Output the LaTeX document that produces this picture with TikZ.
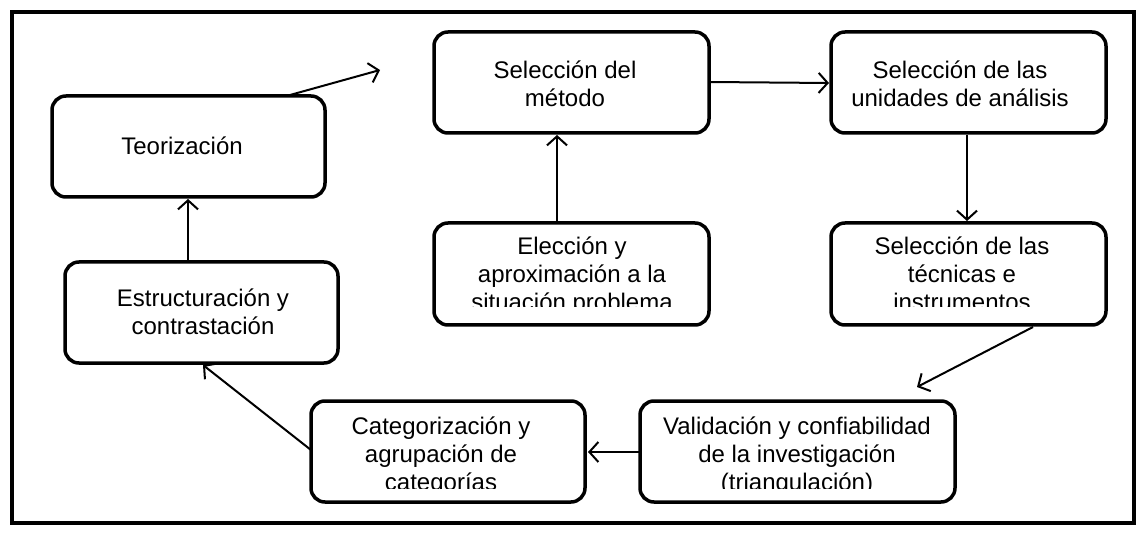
\documentclass[tikz,border=0pt]{standalone}
\usepackage{fontspec}
\setmainfont{Liberation Sans}
\usetikzlibrary{arrows.meta}
\begin{document}
\begin{tikzpicture}[x=1pt,y=-1pt,
  box/.style={draw,line width=3.5pt,rounded corners=14pt,fill=white},
  txt/.style={align=center,font=\fontsize{24}{28}\selectfont,inner sep=0pt},
  arr/.style={line width=2pt,-{Straight Barb[length=9pt,width=20pt,line width=2pt]}}]
\useasboundingbox (0,0) rectangle (1146,537);
\fill[white] (0,0) rectangle (1146,537);
\draw[line width=4pt] (12,12) rectangle (1134,523);
% boxes
\draw[box] (52,96) rectangle (325,197);
\node[txt] (teo) at (182,146) {Teorización};
\coordinate (teoN) at (290,95);
\coordinate (teoT) at (380,70);
\draw[box] (434,32) rectangle (709,133);
\node[txt] (met) at (565,84) {Selección del\\método};
\draw[box] (831,32) rectangle (1106,133);
\node[txt] (uni) at (960,84) {Selección de las\\unidades de análisis};
\draw[box] (434,223) rectangle (709,325);
\begin{scope}\clip (434,223) rectangle (709,307);
\node[txt,anchor=north] (ele) at (572,237) {Elección y\\aproximación a la\\situación problema};
\end{scope}
\draw[box] (831,223) rectangle (1106,325);
\begin{scope}\clip (831,223) rectangle (1106,307);
\node[txt,anchor=north] (tec) at (962,237) {Selección de las\\técnicas e\\instrumentos};
\end{scope}
\draw[box] (65,262) rectangle (338,363);
\node[txt] (est) at (203,312) {Estructuración y\\contrastación};
\draw[box] (311,401) rectangle (585,502);
\begin{scope}\clip (311,401) rectangle (585,488);
\node[txt,anchor=north] (cat) at (441,417) {Categorización y\\agrupación de\\categorías};
\end{scope}
\draw[box] (640,401) rectangle (955,502);
\begin{scope}\clip (640,401) rectangle (955,488);
\node[txt,anchor=north] (val) at (797,417) {Validación y confiabilidad\\de la investigación\\(triangulación)};
\end{scope}
% arrows
\coordinate (a1) at (709,82); \coordinate (a2) at (829,83);
\coordinate (b1) at (967,135); \coordinate (b2) at (967,221);
\coordinate (c1) at (1033,327); \coordinate (c2) at (917,387);
\coordinate (d1) at (640,452); \coordinate (d2) at (588,452);
\coordinate (e1) at (311,450); \coordinate (e2) at (203,365);
\coordinate (f1) at (188,262); \coordinate (f2) at (188,199);
\coordinate (g1) at (557,223); \coordinate (g2) at (557,135);
\draw[arr] (teoN) -- (teoT);
\draw[arr] (a1) -- (a2);
\draw[arr] (b1) -- (b2);
\draw[arr] (c1) -- (c2);
\draw[arr] (d1) -- (d2);
\draw[arr] (e1) -- (e2);
\draw[arr] (f1) -- (f2);
\draw[arr] (g1) -- (g2);
\end{tikzpicture}
\end{document}
